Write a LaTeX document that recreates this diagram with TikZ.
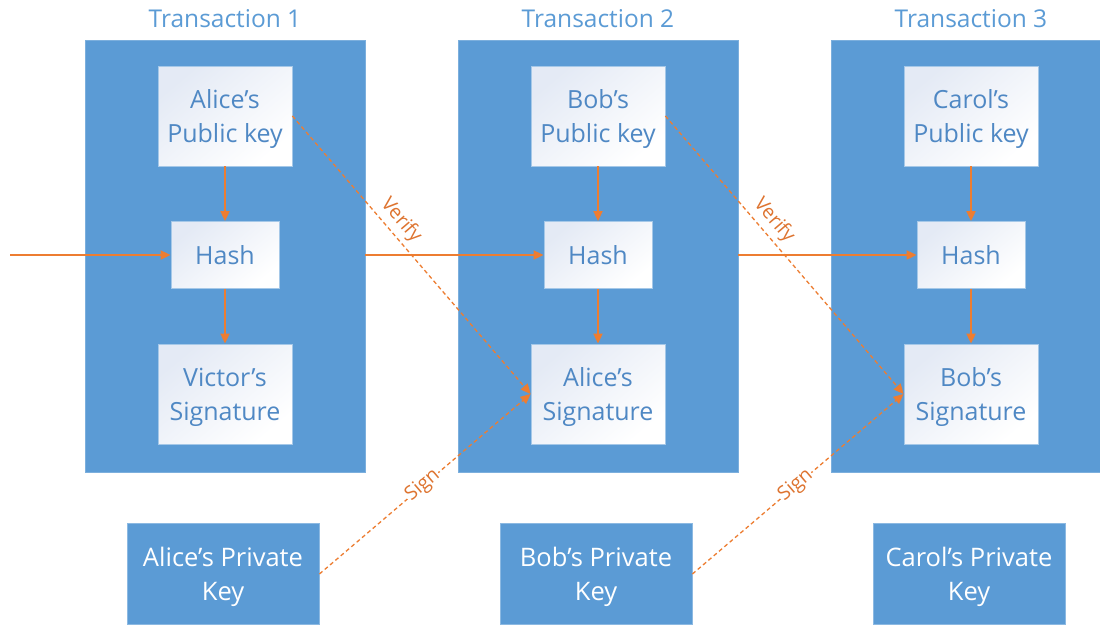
\documentclass[tikz,border=0pt]{standalone}
\usepackage{fontspec}
\setmainfont{Open Sans}
\usetikzlibrary{arrows.meta}
\definecolor{blockblue}{HTML}{5B9BD5}
\definecolor{textblue}{HTML}{4F88C4}
\definecolor{linkorange}{HTML}{ED7D31}
\definecolor{labelorange}{HTML}{DE7430}
\definecolor{paleblue}{HTML}{E4EAF5}
\begin{document}
\begin{tikzpicture}[x=1pt,y=-1pt,
  txbox/.style={fill=blockblue, draw=blockblue!80!white, line width=0.8pt,
    minimum width=280pt, minimum height=432pt, inner sep=0pt},
  title/.style={text=blockblue, font=\fontsize{24.5}{28}\selectfont, inner sep=0pt},
  inbox/.style={draw=blockblue!55!white, line width=0.8pt,
    top color=paleblue, bottom color=white, shading angle=40, inner sep=0pt},
  keybox/.style={inbox, minimum width=134pt, minimum height=100pt},
  hashbox/.style={inbox, minimum width=108pt, minimum height=67pt,
    text=textblue, font=\fontsize{25}{34}\selectfont},
  boxtext/.style={text=textblue, align=center, inner sep=0pt,
    font=\fontsize{25}{34}\selectfont},
  privbox/.style={fill=blockblue, draw=blockblue!70!white, line width=0.8pt,
    inner sep=0pt, minimum width=192pt, minimum height=101pt},
  privtext/.style={text=white, align=center, inner sep=0pt,
    font=\fontsize{25.5}{34}\selectfont},
  flow/.style={draw=linkorange, line width=1.8pt,
    -{Triangle[length=10pt,width=9pt]}},
  crypto/.style={flow, dashed, line width=1.3pt, dash pattern=on 4pt off 3pt},
  tag/.style={text=labelorange, font=\fontsize{19.5}{22}\selectfont, sloped}]
\useasboundingbox (0,0) rectangle (1100,627);
\fill[white] (0,0) rectangle (1100,627);

\foreach \i/\cx/\pk/\sg/\pv in {1/225/Alice/Victor/Alice, 2/598/Bob/Alice/Bob, 3/971/Carol/Bob/Carol}{
  \node[txbox] (tx\i) at (\cx,256) {};
  \node[title] (title\i) at (\cx,19) {Transaction \i};
  \node[keybox] (pk\i) at (\cx,116) {};
  \node[boxtext] (pktext\i) at ([yshift=-3pt]pk\i.center) {\pk’s\\Public key};
  \node[hashbox] (h\i) at (\cx,255) {Hash};
  \node[keybox] (sig\i) at (\cx,394) {};
  \node[boxtext] (sigtext\i) at ([yshift=-3pt]sig\i.center) {\sg’s\\Signature};
  \node[privbox] (priv\i) at (\cx-2,574) {};
  \node[privtext] (privtext\i) at ([yshift=-3pt]priv\i.center) {\pv’s Private\\Key};
  \draw[flow] (pk\i.south) -- (h\i.north);
  \draw[flow] (h\i.south) -- (sig\i.north);
}

% chain of hashes
\coordinate (start) at (10,255);
\draw[flow] (start) -- (h1.west);
\draw[flow] (tx1.east |- h1.west) -- (h2.west);
\draw[flow] (tx2.east |- h2.west) -- (h3.west);

% verify and sign links
\draw[crypto] (pk1.east) -- node[tag, pos=0.41, anchor=south, inner sep=4pt] {Verify} (sig2.west);
\draw[crypto] (pk2.east) -- node[tag, pos=0.41, anchor=south, inner sep=4pt] {Verify} (sig3.west);
\draw[crypto] (priv1.east) -- node[tag, pos=0.49, fill=white, inner sep=1pt] {Sign} (sig2.west);
\draw[crypto] (priv2.east) -- node[tag, pos=0.49, fill=white, inner sep=1pt] {Sign} (sig3.west);
\end{tikzpicture}
\end{document}
